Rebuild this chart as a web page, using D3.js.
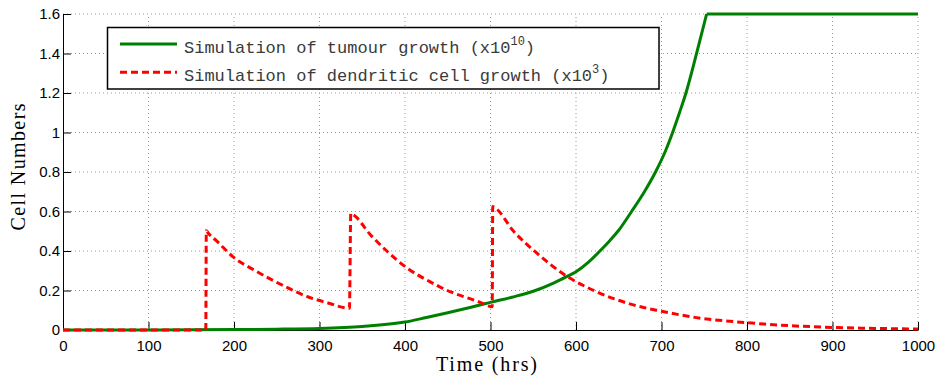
<!DOCTYPE html>
<html>
<head>
 <meta charset="UTF-8">
 <title>Tumour and dendritic cell growth</title>
 <script src="https://d3js.org/d3.v7.min.js"></script>
 <style>
  body { margin: 0; background: #fff; }
 </style>
</head>
<body>
	<script type="text/javascript">
		// values
		var xTicks = [0, 100, 200, 300, 400, 500, 600, 700, 800, 900, 1000];
		var yTicks = [0, 0.2, 0.4, 0.6, 0.8, 1, 1.2, 1.4, 1.6];

		var tumourTime = [0, 100, 150, 200, 250, 300, 350, 400, 425, 450, 475, 500, 525, 550, 575, 589, 600, 615, 628, 640, 650, 665, 680, 693, 705, 713, 721, 728.6, 741, 752.8, 1000];
		var tumourCells = [0, 0.0005, 0.001, 0.002, 0.004, 0.008, 0.018, 0.04, 0.063, 0.087, 0.113, 0.14, 0.166, 0.196, 0.24, 0.27, 0.295, 0.345, 0.4, 0.455, 0.505, 0.6, 0.7, 0.8, 0.91, 1.0, 1.1, 1.2, 1.4, 1.6, 1.6];

		var dcTime = [0, 167, 167.6, 170, 180, 199, 225, 246, 265, 285, 310, 335, 336.6, 339, 360, 380, 402, 429, 455, 475, 488, 502, 502.6, 505, 527, 554, 589, 624, 667, 700, 739, 800, 850, 900, 950, 1000];
		var dcCells = [0, 0, 0.503, 0.49, 0.45, 0.37, 0.3, 0.25, 0.209, 0.17, 0.137, 0.11, 0.59, 0.585, 0.48, 0.395, 0.315, 0.245, 0.19, 0.16, 0.14, 0.118, 0.625, 0.62, 0.5, 0.39, 0.273, 0.194, 0.127, 0.095, 0.064, 0.037, 0.022, 0.013, 0.008, 0.005];

		var legendNames = ["Simulation of tumour growth (x10", "Simulation of dendritic cell growth (x10"];
		var legendPowers = ["10", "3"];

		var width = 939;
		var height = 376;
		var margin = {left: 63, top: 14, right: 21, bottom: 46};
		var w = width - margin.left - margin.right;
		var h = height - margin.top - margin.bottom;

		var svg = d3.select('body').append('svg')
			.attr('width', width)
			.attr('height', height);

		var x = d3.scaleLinear().domain([0, 1000]).range([margin.left, margin.left + w]);
		var y = d3.scaleLinear().domain([0, 1.6]).range([margin.top + h, margin.top]);

		// dotted grid
		svg.append('g').selectAll('line')
			.data(xTicks.slice(1))
			.enter().append('line')
			.attr('x1', function (d) { return x(d); })
			.attr('x2', function (d) { return x(d); })
			.attr('y1', y(0))
			.attr('y2', y(1.6))
			.attr('stroke', '#9a9a9a')
			.attr('stroke-width', 1)
			.attr('stroke-dasharray', '1,3');
		svg.append('g').selectAll('line')
			.data(yTicks.slice(1))
			.enter().append('line')
			.attr('x1', x(0))
			.attr('x2', x(1000))
			.attr('y1', function (d) { return y(d); })
			.attr('y2', function (d) { return y(d); })
			.attr('stroke', '#9a9a9a')
			.attr('stroke-width', 1)
			.attr('stroke-dasharray', '1,3');

		// axes, ticks pointing inward like matlab
		var xAxis = svg.append('g')
			.attr('transform', 'translate(0,' + y(0) + ')')
			.call(d3.axisBottom(x).tickValues(xTicks).tickFormat(d3.format('d')).tickSizeInner(-8).tickSizeOuter(0).tickPadding(10));
		var yAxis = svg.append('g')
			.attr('transform', 'translate(' + x(0) + ',0)')
			.call(d3.axisLeft(y).tickValues(yTicks).tickFormat(function (d) { return String(d); }).tickSizeInner(-8).tickSizeOuter(0).tickPadding(4));
		svg.selectAll('.domain').attr('stroke', '#000').attr('stroke-width', 1);
		svg.selectAll('.tick line').attr('stroke', '#000');
		svg.selectAll('.tick text')
			.attr('fill', '#000')
			.style('font-family', '"Liberation Sans", Arial, sans-serif')
			.style('font-size', '15px');
		yAxis.selectAll('.tick text').attr('x', -3);

		// axis titles
		svg.append('text')
			.attr('x', x(500) - 4)
			.attr('y', 371)
			.attr('text-anchor', 'middle')
			.style('font-family', '"Liberation Serif", "Times New Roman", serif')
			.style('font-size', '20px')
			.attr('textLength', 101)
			.text('Time (hrs)');
		svg.append('text')
			.attr('transform', 'translate(25,167) rotate(-90)')
			.attr('text-anchor', 'middle')
			.style('font-family', '"Liberation Serif", "Times New Roman", serif')
			.style('font-size', '20px')
			.attr('textLength', 127)
			.text('Cell Numbers');

		var smooth = d3.line()
			.x(function (d) { return x(d[0]); })
			.y(function (d) { return y(d[1]); })
			.curve(d3.curveMonotoneX);
		var straight = d3.line()
			.x(function (d) { return x(d[0]); })
			.y(function (d) { return y(d[1]); });

		var tumour = d3.zip(tumourTime, tumourCells);
		var dc = d3.zip(dcTime, dcCells);
		var plateau = tumour.length - 2;

		svg.append('path')
			.attr('d', smooth(tumour.slice(0, plateau + 1)))
			.attr('fill', 'none')
			.attr('stroke', '#008000')
			.attr('stroke-width', 3);
		svg.append('path')
			.attr('d', straight(tumour.slice(plateau)))
			.attr('fill', 'none')
			.attr('stroke', '#008000')
			.attr('stroke-width', 3);

		svg.append('path')
			.attr('d', smooth(dc))
			.attr('fill', 'none')
			.attr('stroke', '#ff0000')
			.attr('stroke-width', 3)
			.attr('stroke-dasharray', '7,4');

		// legend
		var legend = svg.append('g');
		legend.append('rect')
			.attr('x', 107.5)
			.attr('y', 27.5)
			.attr('width', 551.5)
			.attr('height', 61.5)
			.attr('fill', '#fff')
			.attr('stroke', '#000')
			.attr('stroke-width', 1.5);
		var colors = ['#008000', '#ff0000'];
		var dashes = [null, '7,4'];
		var rows = legend.selectAll('g.row')
			.data(legendNames)
			.enter().append('g')
			.attr('class', 'row')
			.attr('transform', function (d, i) { return 'translate(0,' + (44 + i * 28.3) + ')'; });
		rows.append('line')
			.attr('x1', 120)
			.attr('x2', 177)
			.attr('stroke', function (d, i) { return colors[i]; })
			.attr('stroke-width', 3)
			.attr('stroke-dasharray', function (d, i) { return dashes[i]; });
		var label = rows.append('text')
			.attr('x', 184)
			.attr('y', 8.5)
			.attr('fill', '#3a3a3a')
			.style('font-family', '"Liberation Mono", "Courier New", monospace')
			.style('font-size', '17px');
		label.append('tspan').text(function (d) { return d; });
		label.append('tspan')
			.attr('dy', -8)
			.style('font-size', '12px')
			.text(function (d, i) { return legendPowers[i]; });
		label.append('tspan')
			.attr('dy', 8)
			.text(')');
	</script>
</body>
</html>
